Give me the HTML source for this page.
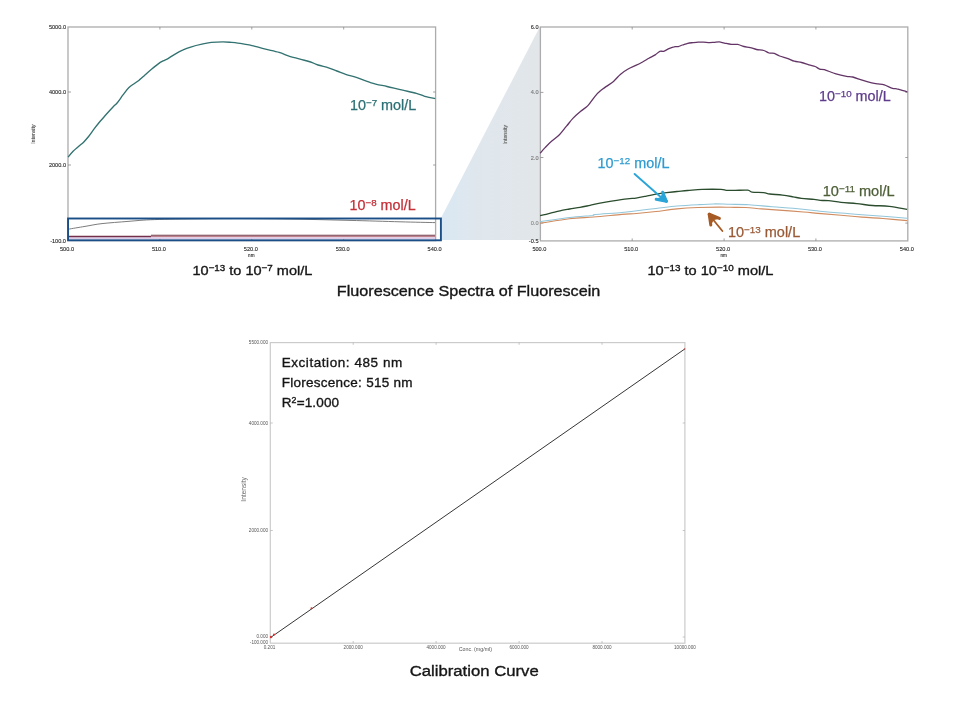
<!DOCTYPE html>
<html><head><meta charset="utf-8">
<style>
html,body{margin:0;padding:0;background:#fff;width:953px;height:702px;overflow:hidden}
svg{display:block}
text{font-family:"Liberation Sans",Arial,sans-serif}
.tk{font-size:5.6px;fill:#2a2a2a;stroke:#2a2a2a;stroke-width:0.12}
.tkc{font-size:4.6px;fill:#555}
</style></head>
<body>
<svg width="953" height="702" viewBox="0 0 953 702">
<defs>
<linearGradient id="pg" x1="441" y1="0" x2="540" y2="0" gradientUnits="userSpaceOnUse">
<stop offset="0" stop-color="#d9e8f3"/>
<stop offset="0.3" stop-color="#dfe7ee"/>
<stop offset="1" stop-color="#e2e6e9"/>
</linearGradient>
</defs>
<polygon points="441,218 540,26.5 540,240 441,240" fill="url(#pg)"/>

<!-- LEFT PLOT -->
<rect x="68" y="27" width="367.6" height="213.6" fill="#fff" stroke="#acacae" stroke-width="1.3"/>
<g stroke="#8a8a8a" stroke-width="0.8">
<line x1="159.9" y1="27.0" x2="159.9" y2="29.5"/><line x1="251.8" y1="27.0" x2="251.8" y2="29.5"/><line x1="343.7" y1="27.0" x2="343.7" y2="29.5"/><line x1="159.9" y1="240.6" x2="159.9" y2="238.1"/><line x1="251.8" y1="240.6" x2="251.8" y2="238.1"/><line x1="343.7" y1="240.6" x2="343.7" y2="238.1"/>
<line x1="68.0" y1="92.0" x2="71.0" y2="92.0"/><line x1="68.0" y1="165.0" x2="71.0" y2="165.0"/><line x1="435.6" y1="92.0" x2="433.1" y2="92.0"/><line x1="435.6" y1="165.0" x2="433.1" y2="165.0"/>
</g>
<g class="tk" text-anchor="end">
<text x="66" y="29">5000.0</text>
<text x="66" y="94">4000.0</text>
<text x="66" y="167">2000.0</text>
<text x="66" y="243">-100.0</text>
</g>
<g class="tk" text-anchor="middle">
<text x="67.0" y="251">500.0</text>
<text x="158.9" y="251">510.0</text>
<text x="250.8" y="251">520.0</text>
<text x="342.7" y="251">530.0</text>
<text x="434.6" y="251">540.0</text>
<text x="251.3" y="256.6" style="font-size:4.6px">nm</text>
</g>
<text class="tk" transform="translate(34.5,134) rotate(-90)" text-anchor="middle" style="font-size:5.2px;fill:#666">Intensity</text>
<path d="M68.1,157.2 C68.9,156.2 71.3,153.0 73.1,151.2 C74.9,149.4 77.0,147.8 78.8,146.2 C80.6,144.6 82.1,143.6 83.8,141.9 C85.5,140.2 87.0,138.4 88.8,136.2 C90.6,133.9 92.6,130.9 94.5,128.4 C96.4,125.9 98.3,123.6 100.2,121.3 C102.1,119.0 103.8,117.2 105.9,114.8 C108.0,112.4 111.1,109.0 113.0,107.0 C114.9,105.0 115.6,104.7 117.3,102.7 C119.0,100.7 121.1,97.4 123.0,94.9 C124.9,92.4 126.8,89.7 128.7,87.8 C130.6,85.9 132.6,84.8 134.4,83.5 C136.2,82.2 137.8,81.2 139.4,79.9 C141.1,78.6 142.3,77.5 144.3,75.7 C146.3,73.9 149.1,71.3 151.5,69.3 C153.9,67.3 156.7,65.0 158.6,63.6 C160.5,62.2 161.4,61.8 163.0,60.9 C164.6,60.0 166.5,59.4 168.4,58.3 C170.3,57.2 172.2,55.7 174.7,54.3 C177.1,52.9 180.3,51.1 183.1,49.9 C185.9,48.6 188.3,47.8 191.5,46.8 C194.7,45.8 198.7,44.9 202.0,44.2 C205.3,43.5 207.9,42.8 211.4,42.4 C214.9,42.0 219.7,41.8 223.0,41.8 C226.3,41.8 228.3,42.1 231.4,42.4 C234.5,42.7 238.7,43.1 241.8,43.6 C244.9,44.1 248.0,44.8 250.2,45.2 C252.4,45.7 252.4,45.6 255.0,46.3 C257.6,47.0 261.5,48.2 265.5,49.2 C269.5,50.2 275.1,51.2 279.1,52.4 C283.1,53.6 286.1,55.2 289.6,56.3 C293.1,57.4 296.6,58.1 300.1,59.1 C303.6,60.1 307.6,61.0 310.6,62.0 C313.6,63.0 315.0,64.0 318.0,65.0 C321.0,66.0 325.4,66.8 328.5,67.8 C331.6,68.8 333.8,69.9 336.8,71.0 C339.8,72.1 343.2,73.6 346.3,74.6 C349.4,75.6 351.4,75.7 355.5,77.1 C359.6,78.5 365.9,81.2 371.2,82.8 C376.4,84.4 381.8,85.3 387.0,86.5 C392.2,87.7 397.8,89.1 402.7,90.2 C407.6,91.3 412.7,92.3 416.4,93.3 C420.1,94.3 421.6,95.4 424.7,96.3 C427.8,97.2 433.4,98.2 435.2,98.6" fill="none" stroke="#327270" stroke-width="1.35" stroke-linejoin="round"/>
<rect x="69" y="237.3" width="366" height="1.8" fill="#dccbe8"/>
<path d="M68.4,229.2 C71.2,228.7 79.4,227.3 85.0,226.4 C90.6,225.5 94.8,224.4 102.0,223.6 C109.2,222.8 119.3,222.1 128.0,221.4 C136.7,220.7 142.4,220.0 154.4,219.6 C166.4,219.2 183.9,219.0 200.0,218.8 C216.1,218.6 234.3,218.5 251.0,218.6 C267.7,218.7 283.5,218.9 300.0,219.2 C316.5,219.5 333.3,220.0 350.0,220.4 C366.7,220.8 385.8,221.4 400.0,221.8 C414.2,222.2 429.2,222.5 435.0,222.6" fill="none" stroke="#6d6d6d" stroke-width="0.9"/>
<line x1="68.4" y1="236.6" x2="151" y2="236.6" stroke="#74304a" stroke-width="1.5"/>
<line x1="151" y1="236.6" x2="435" y2="236.6" stroke="#b87482" stroke-width="1"/>
<line x1="151" y1="235.3" x2="435" y2="235.3" stroke="#6e3442" stroke-width="1.1"/>
<rect x="68.05" y="218.5" width="372.85" height="21.8" fill="none" stroke="#1a4e86" stroke-width="1.9"/>
<text x="349.9" y="109.8" fill="#2c7075" stroke="#2c7075" stroke-width="0.25" style="font-size:13.8px" textLength="66.4" lengthAdjust="spacingAndGlyphs">10<tspan dy="-4.2" style="font-size:9.4px">−7</tspan><tspan dy="4.2"> mol/L</tspan></text>
<text x="349.5" y="210.0" fill="#c42f38" stroke="#c42f38" stroke-width="0.25" style="font-size:13.8px" textLength="66.2" lengthAdjust="spacingAndGlyphs">10<tspan dy="-4.2" style="font-size:9.4px">−8</tspan><tspan dy="4.2"> mol/L</tspan></text>

<!-- RIGHT PLOT -->
<rect x="540.4" y="27" width="367.4" height="213.9" fill="#fff" stroke="#acacae" stroke-width="1.3"/>
<g stroke="#8a8a8a" stroke-width="0.8">
<line x1="632.2" y1="27.0" x2="632.2" y2="29.5"/><line x1="724.1" y1="27.0" x2="724.1" y2="29.5"/><line x1="815.9" y1="27.0" x2="815.9" y2="29.5"/><line x1="632.2" y1="240.9" x2="632.2" y2="238.4"/><line x1="724.1" y1="240.9" x2="724.1" y2="238.4"/><line x1="815.9" y1="240.9" x2="815.9" y2="238.4"/>
<line x1="540.4" y1="92.4" x2="543.4" y2="92.4"/><line x1="540.4" y1="157.5" x2="543.4" y2="157.5"/><line x1="540.4" y1="223.1" x2="543.4" y2="223.1"/><line x1="907.8" y1="92.4" x2="905.3" y2="92.4"/><line x1="907.8" y1="157.5" x2="905.3" y2="157.5"/><line x1="907.8" y1="223.1" x2="905.3" y2="223.1"/>
</g>
<g class="tk" text-anchor="end">
<text x="538.5" y="29">6.0</text>
<text x="538.5" y="94.4" style="fill:#777;stroke:#777">4.0</text>
<text x="538.5" y="159.5" style="fill:#777;stroke:#777">2.0</text>
<text x="538.5" y="225.1" style="fill:#888;stroke:#888">0.0</text>
<text x="538.5" y="243">-0.5</text>
</g>
<g class="tk" text-anchor="middle">
<text x="539.4" y="251">500.0</text>
<text x="631.2" y="251">510.0</text>
<text x="723.1" y="251">520.0</text>
<text x="814.9" y="251">530.0</text>
<text x="906.8" y="251">540.0</text>
<text x="723.6" y="256.6" style="font-size:4.6px">nm</text>
</g>
<text class="tk" transform="translate(506.5,134.6) rotate(-90)" text-anchor="middle" style="font-size:5.2px;fill:#8a8a8a">Intensity</text>
<path d="M540.1,153.3 C540.9,152.4 543.2,149.6 545.1,147.6 C547.0,145.6 549.1,143.3 551.5,141.2 C553.9,139.1 556.9,137.3 559.4,134.8 C561.9,132.3 564.2,128.9 566.5,126.2 C568.8,123.5 570.5,120.9 572.9,118.4 C575.3,115.9 578.2,113.4 580.7,111.3 C583.2,109.2 585.5,108.1 587.9,105.6 C590.3,103.1 592.9,98.8 595.0,96.3 C597.1,93.8 598.8,92.2 600.7,90.6 C602.6,88.9 604.3,87.9 606.4,86.4 C608.5,84.9 611.1,83.4 613.5,81.4 C615.9,79.4 618.2,76.2 620.6,74.2 C623.0,72.2 625.1,70.8 627.7,69.3 C630.3,67.8 633.8,66.4 636.3,65.2 C638.8,64.0 640.5,63.1 642.6,62.0 C644.7,60.9 646.8,59.5 648.9,58.3 C651.0,57.1 653.4,56.1 655.2,54.9 C657.0,53.7 658.5,51.9 659.9,51.3 C661.3,50.7 662.1,51.7 663.6,51.3 C665.1,50.9 667.0,49.5 668.8,48.7 C670.5,48.0 672.5,47.1 674.1,46.8 C675.7,46.4 676.9,46.9 678.3,46.6 C679.7,46.3 680.9,45.5 682.5,45.0 C684.1,44.5 686.0,43.7 687.7,43.3 C689.5,42.9 691.2,42.8 693.0,42.6 C694.8,42.4 696.5,42.2 698.2,42.1 C700.0,42.0 701.6,42.0 703.5,42.1 C705.4,42.2 708.0,42.6 709.7,42.6 C711.4,42.6 712.3,42.5 713.9,42.4 C715.5,42.3 717.5,41.8 719.2,41.9 C721.0,42.0 722.4,42.7 724.4,43.1 C726.4,43.5 729.1,44.2 731.3,44.4 C733.5,44.6 735.5,44.0 737.6,44.4 C739.7,44.8 741.8,46.0 743.9,46.5 C746.0,47.0 748.1,47.1 750.2,47.6 C752.3,48.1 754.2,49.0 756.5,49.5 C758.8,50.0 761.7,49.9 763.8,50.5 C765.9,51.1 767.4,52.5 769.1,53.0 C770.9,53.5 772.5,52.9 774.3,53.4 C776.0,53.9 777.3,55.1 779.6,56.0 C781.9,56.9 785.5,57.7 788.0,58.6 C790.5,59.5 792.0,60.6 794.3,61.2 C796.6,61.9 799.2,61.9 801.6,62.5 C804.0,63.1 806.6,64.2 808.9,64.9 C811.2,65.6 813.4,65.8 815.2,66.5 C817.0,67.2 818.1,68.6 819.6,69.1 C821.1,69.6 821.7,68.9 824.4,69.7 C827.1,70.5 832.3,72.8 836.0,73.9 C839.7,75.0 843.7,75.8 846.5,76.3 C849.3,76.8 850.2,76.3 852.8,77.0 C855.4,77.7 859.1,79.2 862.2,80.2 C865.4,81.2 869.1,82.2 871.7,82.8 C874.3,83.4 875.9,83.6 878.0,83.9 C880.1,84.2 881.9,84.2 884.3,84.9 C886.7,85.7 890.5,87.8 892.6,88.4 C894.7,89.1 894.3,88.2 896.8,88.8 C899.2,89.3 905.5,91.2 907.3,91.7" fill="none" stroke="#633566" stroke-width="1.3" stroke-linejoin="round"/>
<path d="M540.1,223.3 C545.0,222.6 560.6,219.9 569.5,218.8 C578.4,217.8 584.9,217.7 593.6,217.0 C602.3,216.3 614.8,215.0 621.9,214.4 C629.0,213.8 630.8,214.0 636.5,213.5 C642.2,213.0 649.2,212.3 656.0,211.5 C662.8,210.7 670.0,209.6 677.0,208.9 C684.0,208.2 691.0,207.8 698.0,207.5 C705.0,207.2 713.7,207.1 719.0,207.1 C724.3,207.1 725.5,207.2 730.0,207.3 C734.5,207.4 740.5,207.2 745.7,207.5 C751.0,207.8 755.4,208.4 761.5,208.9 C767.6,209.4 775.5,209.9 782.5,210.4 C789.5,210.9 797.0,211.5 803.5,212.0 C810.0,212.5 815.0,213.1 821.3,213.6 C827.5,214.1 834.2,214.6 841.0,215.2 C847.8,215.8 855.0,216.5 862.0,217.1 C869.0,217.7 875.5,217.9 883.0,218.5 C890.5,219.1 903.1,220.2 907.1,220.6" fill="none" stroke="#d08c60" stroke-width="1.15" stroke-linejoin="round"/>
<path d="M540.1,221.7 C545.0,221.0 560.7,218.6 569.5,217.5 C578.3,216.4 588.8,215.9 593.0,215.4 C597.2,214.9 590.2,215.0 595.0,214.5 C599.8,214.0 615.2,213.1 621.9,212.5 C628.6,211.9 629.3,211.7 635.0,211.0 C640.7,210.3 649.0,209.3 656.0,208.5 C663.0,207.7 670.0,206.6 677.0,206.0 C684.0,205.4 691.9,205.0 698.0,204.7 C704.1,204.3 708.4,204.0 713.7,203.9 C719.0,203.8 724.1,204.2 730.0,204.3 C735.9,204.4 741.9,204.3 748.9,204.7 C755.9,205.1 764.6,206.2 772.0,206.8 C779.4,207.4 786.0,207.7 793.0,208.3 C800.0,208.9 809.5,209.9 814.0,210.4 C818.5,210.9 815.5,210.8 820.0,211.2 C824.5,211.6 834.0,212.5 841.0,213.1 C848.0,213.7 855.0,214.2 862.0,214.7 C869.0,215.2 875.5,215.6 883.0,216.2 C890.5,216.8 903.1,218.0 907.1,218.3" fill="none" stroke="#92c6da" stroke-width="1.05" stroke-linejoin="round"/>
<path d="M540.1,215.6 C542.4,215.1 550.4,213.1 553.7,212.3 C557.0,211.5 557.4,211.4 560.0,210.8 C562.6,210.2 566.2,209.6 569.5,209.0 C572.8,208.4 576.6,208.0 580.0,207.4 C583.4,206.8 586.7,206.0 590.0,205.3 C593.3,204.6 596.4,203.8 600.0,203.1 C603.6,202.4 607.0,201.8 611.5,201.1 C616.0,200.4 623.1,199.3 627.2,198.8 C631.3,198.3 633.0,198.5 636.0,198.1 C639.0,197.7 642.2,197.0 645.5,196.3 C648.8,195.7 652.5,194.8 656.0,194.2 C659.5,193.6 663.0,193.0 666.5,192.6 C670.0,192.2 673.5,191.8 677.0,191.5 C680.5,191.2 683.3,190.8 687.5,190.5 C691.7,190.2 696.6,189.6 702.2,189.4 C707.8,189.2 717.0,189.2 721.0,189.4 C725.0,189.6 724.0,190.2 726.3,190.3 C728.6,190.5 731.4,190.3 735.0,190.3 C738.6,190.3 745.0,189.9 747.8,190.2 C750.6,190.5 749.4,191.7 752.0,192.1 C754.6,192.5 760.6,192.3 763.6,192.6 C766.6,192.9 766.8,193.6 769.9,194.0 C773.0,194.4 778.6,194.7 782.5,195.2 C786.4,195.7 789.9,196.3 793.0,196.8 C796.1,197.3 797.9,198.0 801.4,198.4 C804.9,198.8 810.9,199.1 814.0,199.4 C817.1,199.7 817.8,200.2 820.2,200.4 C822.6,200.6 824.9,200.3 828.4,200.6 C831.9,200.9 836.3,201.9 841.0,202.4 C845.7,202.9 851.5,203.1 856.7,203.6 C862.0,204.1 867.1,205.1 872.5,205.5 C877.9,205.9 883.5,205.7 889.3,206.3 C895.1,207.0 904.1,208.9 907.1,209.4" fill="none" stroke="#2b4d2e" stroke-width="1.35" stroke-linejoin="round"/>
<text x="819.0" y="101.0" fill="#5e3c8c" stroke="#5e3c8c" stroke-width="0.25" style="font-size:13.8px" textLength="71.8" lengthAdjust="spacingAndGlyphs">10<tspan dy="-4.2" style="font-size:9.4px">−10</tspan><tspan dy="4.2"> mol/L</tspan></text>
<text x="597.6" y="168.4" fill="#2f9bd0" stroke="#2f9bd0" stroke-width="0.25" style="font-size:13.8px" textLength="71.8" lengthAdjust="spacingAndGlyphs">10<tspan dy="-4.2" style="font-size:9.4px">−12</tspan><tspan dy="4.2"> mol/L</tspan></text>
<text x="822.7" y="196.4" fill="#4e5f38" stroke="#4e5f38" stroke-width="0.25" style="font-size:13.8px" textLength="71.9" lengthAdjust="spacingAndGlyphs">10<tspan dy="-4.2" style="font-size:9.4px">−11</tspan><tspan dy="4.2"> mol/L</tspan></text>
<text x="727.9" y="236.9" fill="#9a5a36" stroke="#9a5a36" stroke-width="0.25" style="font-size:13.8px" textLength="72.3" lengthAdjust="spacingAndGlyphs">10<tspan dy="-4.2" style="font-size:9.4px">−13</tspan><tspan dy="4.2"> mol/L</tspan></text>
<g stroke="#2ba5d8" fill="#2ba5d8" stroke-linecap="round" stroke-linejoin="round">
<line x1="634.6" y1="174" x2="661" y2="197.3" stroke-width="1.9"/>
<path d="M666.4,201.3 L662.7,192.2 L661.2,197.4 L656.2,199.2 Z" stroke-width="1"/>
<line x1="666.4" y1="201.3" x2="662.7" y2="192.2" stroke-width="3"/>
<line x1="666.4" y1="201.3" x2="656.2" y2="199.2" stroke-width="3"/>
</g>
<g stroke="#a65a24" fill="#a65a24" stroke-linecap="round" stroke-linejoin="round">
<line x1="722.4" y1="231" x2="713" y2="219.5" stroke-width="1.8"/>
<path d="M709.2,214.2 L719.4,218.4 L713.2,219.6 L710.8,225 Z" stroke-width="1"/>
<line x1="709.2" y1="214.2" x2="719.4" y2="218.4" stroke-width="3"/>
<line x1="709.2" y1="214.2" x2="710.8" y2="225" stroke-width="3"/>
</g>

<!-- captions -->
<g fill="#161616" stroke="#161616" stroke-width="0.35">
<text x="192.5" y="275" style="font-size:13.6px" textLength="119.8" lengthAdjust="spacingAndGlyphs">10<tspan dy="-3.9" style="font-size:9.2px">−13</tspan><tspan dy="3.9"> to 10</tspan><tspan dy="-3.9" style="font-size:9.2px">−7</tspan><tspan dy="3.9"> mol/L</tspan></text>
<text x="647.5" y="275" style="font-size:13.6px" textLength="126" lengthAdjust="spacingAndGlyphs">10<tspan dy="-3.9" style="font-size:9.2px">−13</tspan><tspan dy="3.9"> to 10</tspan><tspan dy="-3.9" style="font-size:9.2px">−10</tspan><tspan dy="3.9"> mol/L</tspan></text>
<text x="336.8" y="295.6" style="font-size:15.4px" textLength="263.5" lengthAdjust="spacingAndGlyphs">Fluorescence Spectra of Fluorescein</text>
<text x="409.7" y="675.5" style="font-size:15.4px" textLength="129" lengthAdjust="spacingAndGlyphs">Calibration Curve</text>
</g>

<!-- CALIBRATION -->
<rect x="270.3" y="342.6" width="414.6" height="300.6" fill="#fff" stroke="#cbcbcb" stroke-width="1.2"/>
<g stroke="#b0b0b0" stroke-width="0.7">
<line x1="353.2" y1="342.6" x2="353.2" y2="344.8"/><line x1="436.1" y1="342.6" x2="436.1" y2="344.8"/><line x1="519.1" y1="342.6" x2="519.1" y2="344.8"/><line x1="602.0" y1="342.6" x2="602.0" y2="344.8"/><line x1="353.2" y1="643.2" x2="353.2" y2="641.0"/><line x1="436.1" y1="643.2" x2="436.1" y2="641.0"/><line x1="519.1" y1="643.2" x2="519.1" y2="641.0"/><line x1="602.0" y1="643.2" x2="602.0" y2="641.0"/>
<line x1="270.3" y1="423.0" x2="272.8" y2="423.0"/><line x1="270.3" y1="530.5" x2="272.8" y2="530.5"/><line x1="270.3" y1="637.0" x2="272.8" y2="637.0"/><line x1="684.9" y1="423.0" x2="682.7" y2="423.0"/><line x1="684.9" y1="530.5" x2="682.7" y2="530.5"/><line x1="684.9" y1="637.0" x2="682.7" y2="637.0"/>
</g>
<g class="tkc" text-anchor="end">
<text x="268" y="344.2">5500.000</text>
<text x="268" y="424.6">4000.000</text>
<text x="268" y="532.1">2000.000</text>
<text x="268" y="638.4">0.000</text>
<text x="268" y="643.8">-100.000</text>
</g>
<g class="tkc" text-anchor="middle">
<text x="269.5" y="648.5">0.201</text>
<text x="353.2" y="648.5">2000.000</text>
<text x="436.1" y="648.5">4000.000</text>
<text x="519.1" y="648.5">6000.000</text>
<text x="602.0" y="648.5">8000.000</text>
<text x="684.9" y="648.5">10000.000</text>
<text x="475.4" y="651" style="font-size:5.3px">Conc. (mg/ml)</text>
</g>
<text class="tkc" transform="translate(246.3,489.4) rotate(-90)" text-anchor="middle" style="font-size:6.6px;fill:#666">Intensity</text>
<line x1="270.3" y1="637.7" x2="684.9" y2="348.9" stroke="#2a2a2a" stroke-width="0.95"/>
<g fill="#e03030">
<circle cx="271" cy="637" r="1.2"/><circle cx="274" cy="634.5" r="1"/><circle cx="311.5" cy="608.2" r="1"/><circle cx="684.7" cy="348.8" r="0.9" fill-opacity="0.5"/>
</g>
<g fill="#161616" stroke="#161616" stroke-width="0.35" style="font-size:13.5px">
<text x="281.7" y="366.7" textLength="120.5" lengthAdjust="spacing">Excitation: 485 nm</text>
<text x="281.7" y="386.7" textLength="130.8" lengthAdjust="spacing">Florescence: 515 nm</text>
<text x="281.7" y="406.6" textLength="57.4" lengthAdjust="spacing">R<tspan dy="-4.0" style="font-size:8.8px">2</tspan><tspan dy="4.0">=1.000</tspan></text>
</g>
</svg>
</body></html>
